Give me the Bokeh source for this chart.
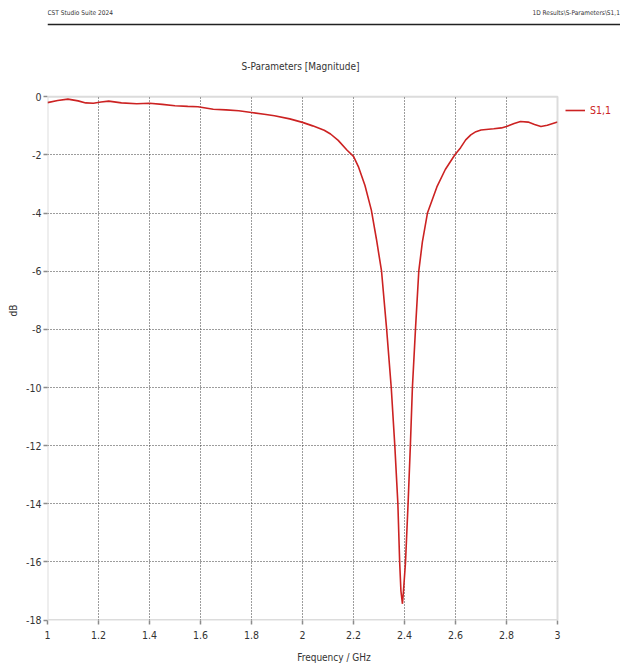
from bokeh.plotting import figure
from bokeh.models import Range1d, FixedTicker, Legend, LegendItem, Label, BoxAnnotation, Span
from bokeh.embed import file_html
from bokeh.resources import INLINE

# ---- data ----
freq_ghz = [1.00, 1.04, 1.08, 1.12, 1.15, 1.18, 1.21, 1.24, 1.29, 1.35, 1.40, 1.45,
            1.50, 1.55, 1.59, 1.65, 1.70, 1.75, 1.80, 1.85, 1.89, 1.95, 2.00, 2.04,
            2.085, 2.11, 2.14, 2.175, 2.20, 2.22, 2.245, 2.27, 2.29, 2.31, 2.33,
            2.348, 2.362, 2.374, 2.381, 2.386, 2.392, 2.396, 2.404, 2.414, 2.423,
            2.431, 2.443, 2.456, 2.470, 2.490, 2.527, 2.56, 2.597, 2.62, 2.64, 2.66,
            2.68, 2.70, 2.75, 2.78, 2.80, 2.83, 2.855, 2.885, 2.91, 2.935, 2.96, 3.00]
s11_db = [-0.20, -0.13, -0.08, -0.14, -0.21, -0.22, -0.18, -0.15, -0.21, -0.24, -0.22, -0.26,
          -0.31, -0.33, -0.34, -0.43, -0.45, -0.48, -0.54, -0.60, -0.65, -0.76, -0.88, -1.00,
          -1.15, -1.28, -1.50, -1.84, -2.05, -2.42, -3.05, -3.90, -4.90, -6.00, -8.00,
          -10.0, -12.0, -14.0, -16.0, -17.0, -17.44, -17.0, -16.0, -14.0, -12.0,
          -10.0, -8.0, -6.0, -5.0, -4.0, -3.1, -2.5, -2.0, -1.75, -1.48, -1.31,
          -1.20, -1.14, -1.10, -1.07, -1.02, -0.92, -0.85, -0.87, -0.95, -1.02, -0.98, -0.87]

x_ticks = [1, 1.2, 1.4, 1.6, 1.8, 2, 2.2, 2.4, 2.6, 2.8, 3]
x_tick_labels = ["1", "1.2", "1.4", "1.6", "1.8", "2", "2.2", "2.4", "2.6", "2.8", "3"]
y_ticks = [0, -2, -4, -6, -8, -10, -12, -14, -16, -18]
y_tick_labels = ["0", "-2", "-4", "-6", "-8", "-10", "-12", "-14", "-16", "-18"]
x_min, x_max = 1, 3
y_min, y_max = -18, 0

series_name = "S1,1"
title_text = "S-Parameters [Magnitude]"
header_left = "CST Studio Suite 2024"
header_right = "1D Results\\S-Parameters\\S1,1"

FONT = "DejaVu Sans Condensed"
RED = "#cc2222"
TXT = "#333333"
GRAY = "#8c8c8c"

# ---- geometry (canvas pixels) ----
W, H = 620, 666
BL, BB = 47, 46                 # left / bottom borders holding the axes
FRAME_W, FRAME_H = W - BL, H - BB
PX_X1 = 510.0                    # frame px from x_min to x_max
PX_Y0 = 96.3                     # canvas y (from top) of y_max
PX_PER_DB = 29.07
ppx = PX_X1 / (x_max - x_min)
xr = Range1d(x_min, x_min + FRAME_W / ppx)
yr = Range1d(y_max + PX_Y0 / PX_PER_DB - FRAME_H / PX_PER_DB, y_max + PX_Y0 / PX_PER_DB)


def cx(px):  # canvas x -> data x
    return xr.start + (px - BL) / ppx


def cy(py):  # canvas y (top-down) -> data y
    return yr.end - py / PX_PER_DB


p = figure(width=W, height=H, x_range=xr, y_range=yr, title=None,
           toolbar_location=None, output_backend="svg",
           min_border_left=BL, min_border_right=0, min_border_top=0, min_border_bottom=BB)
p.outline_line_color = None

r = p.line(freq_ghz, s11_db, line_color=RED, line_width=1.6)

p.xaxis.ticker = FixedTicker(ticks=x_ticks)
p.yaxis.ticker = FixedTicker(ticks=y_ticks)
p.xaxis.major_label_overrides = {t: l for t, l in zip(x_ticks, x_tick_labels)}
p.yaxis.major_label_overrides = {t: l for t, l in zip(y_ticks, y_tick_labels)}
p.xaxis.bounds = (x_min, x_max)
p.yaxis.bounds = (y_min, y_max)
# interior grid lines only (the box outline draws the edges)
p.xgrid.ticker = FixedTicker(ticks=[t for t in x_ticks if x_min < t < x_max])
p.ygrid.ticker = FixedTicker(ticks=[t for t in y_ticks if y_min < t < y_max])

for ax in (p.xaxis, p.yaxis):
    ax.axis_line_color = None
    ax.major_tick_line_color = GRAY
    ax.major_tick_line_width = 1.5
    ax.major_tick_out = 4
    ax.major_tick_in = 0
    ax.minor_tick_line_color = None
    ax.major_label_text_font = FONT
    ax.major_label_text_font_size = "10.5px"
    ax.major_label_text_color = TXT
    ax.axis_label_text_font = FONT
    ax.axis_label_text_font_size = "10px"
    ax.axis_label_text_font_style = "normal"
    ax.axis_label_text_color = TXT

p.xaxis.axis_label = "Frequency / GHz"
p.yaxis.axis_label = "dB"
p.xaxis.major_label_standoff = 6
p.xaxis.axis_label_standoff = 10
p.yaxis.major_label_standoff = 2
p.yaxis.axis_label_standoff = 4

p.grid.grid_line_color = "#3a3a3a"
p.grid.grid_line_dash = "1 2"
p.grid.grid_line_width = 1

# white masks outside the plotting box, then the box outline
p.add_layout(BoxAnnotation(bottom=y_max, fill_color="white", fill_alpha=1, line_color=None))
p.add_layout(BoxAnnotation(left=x_max, fill_color="white", fill_alpha=1, line_color=None))
p.add_layout(BoxAnnotation(left=x_min, right=x_max, bottom=y_min, top=y_max,
                           fill_alpha=0, line_color=GRAY, line_width=2))

# header strip and title
p.add_layout(Label(x=cx(BL), y=cy(12), text=header_left, text_font=FONT, text_font_size="6.5px",
                   text_color=TXT, text_baseline="middle", text_align="left"))
p.add_layout(Label(x=cx(532), y=cy(12), text=header_right, text_font=FONT, text_font_size="6.5px",
                   text_color=TXT, text_baseline="middle", text_align="left"))
p.add_layout(Span(location=cy(24), dimension="width", line_color="#222222", line_width=1.5))
p.add_layout(Label(x=cx(300), y=cy(66), text=title_text, text_font=FONT,
                   text_font_size="10px", text_color=TXT,
                   text_baseline="middle", text_align="center"))

legend = Legend(items=[LegendItem(label=series_name, renderers=[r])],
                location=(567 - 2 - BL, FRAME_H - 108 - 12),
                margin=0, padding=2, glyph_width=20, glyph_height=20, label_height=20,
                label_standoff=5, label_text_font=FONT, label_text_font_size="10.5px",
                label_text_color=RED, border_line_color=None, background_fill_alpha=0)
p.add_layout(legend, "center")

open("out.html", "w").write(file_html(p, INLINE))
